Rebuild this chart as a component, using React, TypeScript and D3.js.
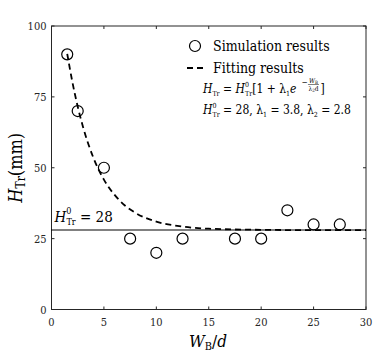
import React, { useEffect, useRef } from "react";
import * as d3 from "d3";

// simulation points
const simX = [1.5, 2.5, 5, 7.5, 10, 12.5, 17.5, 20, 22.5, 25, 27.5];
const simY = [90, 70, 50, 25, 20, 25, 25, 25, 35, 30, 30];

// fitted curve
const fitX = [1.5, 2, 2.5, 3, 4, 5, 6, 7, 8, 10, 12, 15, 20, 25, 30];
const fitY = [90.2, 80.1, 71.6, 64.5, 53.5, 45.8, 40.5, 36.7, 34.1, 31.0, 29.5, 28.5, 28.1, 28.0, 28.0];

const baseH = 28;
const xTicks = [0, 5, 10, 15, 20, 25, 30];
const yTicks = [0, 25, 50, 75, 100];

const W = 389;
const H = 356;
const margin = { top: 26, right: 23, bottom: 46.5, left: 51.5 };
const serif = "'DejaVu Serif Condensed', 'DejaVu Serif', serif";
const axisColor = "#262626";

const App = () => {
  const svgRef = useRef<SVGSVGElement>(null);

  useEffect(() => {
    const svg = d3.select(svgRef.current);
    svg.selectAll("*").remove();

    const x = d3.scaleLinear().domain([0, 30]).range([margin.left, W - margin.right]);
    const y = d3.scaleLinear().domain([0, 100]).range([H - margin.bottom, margin.top]);

    const g = svg.append("g");
    const text = (px: number, py: number, size: number) =>
      g
        .append("text")
        .attr("x", px)
        .attr("y", py)
        .attr("font-size", size)
        .style("font-family", serif)
        .style("font-stretch", "condensed");

    // box
    g.append("rect")
      .attr("x", x(0))
      .attr("y", y(100))
      .attr("width", x(30) - x(0))
      .attr("height", y(0) - y(100))
      .attr("fill", "none")
      .attr("stroke", axisColor)
      .attr("stroke-width", 1);

    // ticks, inward on all four sides
    xTicks.forEach((t) => {
      g.append("line").attr("x1", x(t)).attr("x2", x(t)).attr("y1", y(0)).attr("y2", y(0) - 3).attr("stroke", axisColor);
      g.append("line").attr("x1", x(t)).attr("x2", x(t)).attr("y1", y(100)).attr("y2", y(100) + 3).attr("stroke", axisColor);
      text(x(t), y(0) + 16, 11).attr("text-anchor", "middle").attr("fill", axisColor).text(t);
    });
    yTicks.forEach((t) => {
      g.append("line").attr("x1", x(0)).attr("x2", x(0) + 3).attr("y1", y(t)).attr("y2", y(t)).attr("stroke", axisColor);
      g.append("line").attr("x1", x(30)).attr("x2", x(30) - 3).attr("y1", y(t)).attr("y2", y(t)).attr("stroke", axisColor);
      text(x(0) - 5, y(t) + 4, 11).attr("text-anchor", "end").attr("fill", axisColor).text(t);
    });

    // dotted baseline
    const yb = Math.round(y(baseH));
    g.append("line")
      .attr("x1", x(0))
      .attr("x2", x(30))
      .attr("y1", yb)
      .attr("y2", yb)
      .attr("stroke", "#000")
      .attr("stroke-width", 2)
      .attr("stroke-dasharray", "1 1");

    // fitted curve
    const fitData = fitX.map((v, i) => [v, fitY[i]] as [number, number]);
    const line = d3
      .line<[number, number]>()
      .x((d) => x(d[0]))
      .y((d) => y(d[1]))
      .curve(d3.curveMonotoneX);
    g.append("path")
      .datum(fitData)
      .attr("d", line)
      .attr("fill", "none")
      .attr("stroke", "#000")
      .attr("stroke-width", 1.8)
      .attr("stroke-dasharray", "6 4");

    // simulation markers
    g.selectAll("circle.sim")
      .data(simX.map((v, i) => [v, simY[i]]))
      .join("circle")
      .attr("class", "sim")
      .attr("cx", (d) => x(d[0]))
      .attr("cy", (d) => y(d[1]))
      .attr("r", 5.5)
      .attr("fill", "none")
      .attr("stroke", "#000")
      .attr("stroke-width", 1.2);

    // H0 label
    const h0 = text(x(0) + 3, y(baseH) - 8, 15);
    h0.append("tspan").attr("font-style", "italic").text("H");
    h0.append("tspan").attr("font-size", 9).attr("dy", -8).text("0");
    h0.append("tspan").attr("font-size", 9).attr("dx", -5).attr("dy", 11).text("Tr");
    h0.append("tspan").attr("dy", -3).text(" = 28");

    // legend
    g.append("circle").attr("cx", 195).attr("cy", 46).attr("r", 5.5).attr("fill", "none").attr("stroke", "#000").attr("stroke-width", 1.2);
    text(213, 51, 14).text("Simulation results");
    g.append("line")
      .attr("x1", 187)
      .attr("x2", 205)
      .attr("y1", 68)
      .attr("y2", 68)
      .attr("stroke", "#000")
      .attr("stroke-width", 1.8)
      .attr("stroke-dasharray", "6 4");
    text(213, 73, 14).text("Fitting results");

    // formula line 1
    const f1 = text(203, 93, 12);
    f1.append("tspan").attr("font-style", "italic").text("H");
    f1.append("tspan").attr("font-size", 7).attr("dy", 3).text("Tr");
    f1.append("tspan").attr("dy", -3).text(" = ");
    f1.append("tspan").attr("font-style", "italic").text("H");
    f1.append("tspan").attr("font-size", 7).attr("dy", -6).text("0");
    f1.append("tspan").attr("font-size", 7).attr("dx", -4).attr("dy", 9).text("Tr");
    f1.append("tspan").attr("dy", -3).text("[1 + λ");
    f1.append("tspan").attr("font-size", 7).attr("dy", 3).text("1");
    f1.append("tspan").attr("font-style", "italic").attr("dy", -3).text("e");
    const f1End = 203 + (f1.node() as SVGTextElement).getComputedTextLength();

    // exponent: minus sign and fraction
    text(f1End + 1, 85, 8).text("−");
    const fx = f1End + 13;
    const num = text(fx, 82.5, 6.5).attr("text-anchor", "middle");
    num.append("tspan").attr("font-style", "italic").text("W");
    num.append("tspan").attr("font-size", 4.5).attr("dy", 1).text("B");
    g.append("line").attr("x1", fx - 5.5).attr("x2", fx + 5.5).attr("y1", 84.5).attr("y2", 84.5).attr("stroke", "#000").attr("stroke-width", 0.5);
    const den = text(fx, 91, 6.5).attr("text-anchor", "middle");
    den.append("tspan").text("λ");
    den.append("tspan").attr("font-size", 4.5).attr("dy", 1).text("2");
    den.append("tspan").attr("dy", -1).text("d");
    text(fx + 7, 93, 12).text("]");

    // formula line 2
    const f2 = text(203, 114, 12);
    f2.append("tspan").attr("font-style", "italic").text("H");
    f2.append("tspan").attr("font-size", 7).attr("dy", -6).text("0");
    f2.append("tspan").attr("font-size", 7).attr("dx", -4).attr("dy", 9).text("Tr");
    f2.append("tspan").attr("dy", -3).text(" = 28, λ");
    f2.append("tspan").attr("font-size", 7).attr("dy", 3).text("1");
    f2.append("tspan").attr("dy", -3).text(" = 3.8, λ");
    f2.append("tspan").attr("font-size", 7).attr("dy", 3).text("2");
    f2.append("tspan").attr("dy", -3).text(" = 2.8");

    // axis titles
    const xl = text(208, 347, 17).attr("text-anchor", "middle");
    xl.append("tspan").attr("font-style", "italic").text("W");
    xl.append("tspan").attr("font-size", 11).attr("dy", 3).text("B");
    xl.append("tspan").attr("dy", -3).text("/");
    xl.append("tspan").attr("font-style", "italic").text("d");

    const yl = g
      .append("text")
      .style("font-family", serif)
      .style("font-stretch", "condensed")
      .attr("transform", `translate(22, ${(y(0) + y(100)) / 2}) rotate(-90)`)
      .attr("text-anchor", "middle")
      .attr("font-size", 18);
    yl.append("tspan").attr("font-style", "italic").text("H");
    yl.append("tspan").attr("font-size", 12).attr("dy", 3).text("Tr");
    yl.append("tspan").attr("dy", -3).text("(mm)");
  }, []);

  return (
    <svg
      ref={svgRef}
      width={W}
      height={H}
      style={{ position: "absolute", left: 0, top: 0, background: "#fff" }}
    />
  );
};

export default App;
